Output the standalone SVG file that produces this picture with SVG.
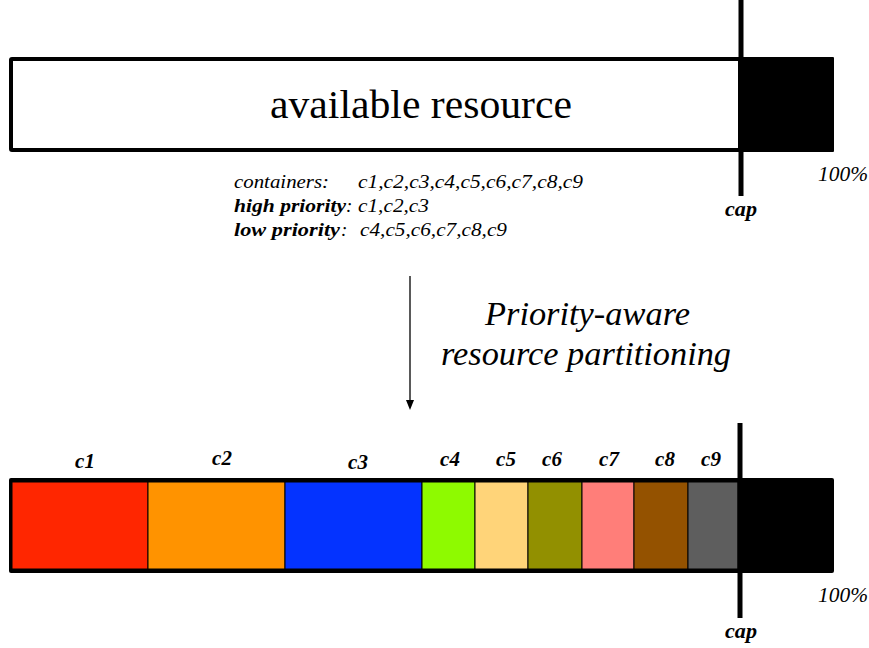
<svg xmlns="http://www.w3.org/2000/svg" width="869" height="648" viewBox="0 0 869 648">
<style>
.t{font-family:"Liberation Serif",serif;fill:#000}
.i{font-style:italic}
.b{font-weight:bold}
.lg{font-size:19px}
.cl{font-size:21px;font-style:italic;font-weight:bold}
.seg{stroke:#000;stroke-width:1}
.cap{stroke:#000;stroke-width:5;fill:none}
</style>
<rect width="869" height="648" fill="#fff"/>
<g id="available">
<rect x="11" y="59" width="729" height="91" fill="#fff" stroke="#000" stroke-width="4" rx="1"/>
<rect x="740" y="57" width="94" height="95" fill="#000" rx="1"/>
<text class="t" x="270" y="118" font-size="39" textLength="302" lengthAdjust="spacingAndGlyphs">available resource</text>
<text class="t i" x="818" y="181" font-size="21" textLength="50" lengthAdjust="spacingAndGlyphs">100%</text>
</g>
<g id="cap-top">
<line class="cap" x1="741" y1="0" x2="741" y2="196"/>
<text class="t i b" x="725" y="216" font-size="20" textLength="32" lengthAdjust="spacingAndGlyphs">cap</text>
</g>
<g id="legend">
<text class="t i lg" x="234" y="188" textLength="95" lengthAdjust="spacingAndGlyphs">containers:</text>
<text class="t i lg" x="358" y="188" textLength="225" lengthAdjust="spacingAndGlyphs">c1,c2,c3,c4,c5,c6,c7,c8,c9</text>
<text class="t i b lg" x="234" y="212" textLength="112" lengthAdjust="spacingAndGlyphs">high priority</text>
<text class="t i lg" x="346" y="212">:</text>
<text class="t i lg" x="358" y="212" textLength="71" lengthAdjust="spacingAndGlyphs">c1,c2,c3</text>
<text class="t i b lg" x="234" y="236" textLength="106" lengthAdjust="spacingAndGlyphs">low priority</text>
<text class="t i lg" x="341" y="236">:</text>
<text class="t i lg" x="360" y="236" textLength="147" lengthAdjust="spacingAndGlyphs">c4,c5,c6,c7,c8,c9</text>
</g>
<g id="connectors">
<line x1="410" y1="276" x2="410" y2="402" stroke="#000" stroke-width="1.3"/>
<path d="M406,400 L414,400 L410,410 Z" fill="#000"/>
</g>
<g id="step-label">
<text class="t i" x="485" y="325" font-size="33" textLength="205" lengthAdjust="spacingAndGlyphs">Priority-aware</text>
<text class="t i" x="441" y="365" font-size="33" textLength="290" lengthAdjust="spacingAndGlyphs">resource partitioning</text>
</g>
<g id="partitioned">
<rect x="9" y="478" width="825" height="95" fill="#000" rx="2"/>
<rect class="seg" x="12" y="482" width="136" height="87" fill="#ff2600"/>
<rect class="seg" x="148" y="482" width="137" height="87" fill="#ff9300"/>
<rect class="seg" x="285" y="482" width="137" height="87" fill="#0433ff"/>
<rect class="seg" x="422" y="482" width="53" height="87" fill="#8efa00"/>
<rect class="seg" x="475" y="482" width="53" height="87" fill="#ffd479"/>
<rect class="seg" x="528" y="482" width="54" height="87" fill="#929000"/>
<rect class="seg" x="582" y="482" width="52" height="87" fill="#ff7e79"/>
<rect class="seg" x="634" y="482" width="54" height="87" fill="#945200"/>
<rect class="seg" x="688" y="482" width="50" height="87" fill="#5e5e5e"/>
<text class="t cl" x="85" y="468" text-anchor="middle">c1</text>
<text class="t cl" x="222" y="465" text-anchor="middle">c2</text>
<text class="t cl" x="358" y="469" text-anchor="middle">c3</text>
<text class="t cl" x="450" y="466" text-anchor="middle">c4</text>
<text class="t cl" x="506" y="466" text-anchor="middle">c5</text>
<text class="t cl" x="552" y="466" text-anchor="middle">c6</text>
<text class="t cl" x="609" y="466" text-anchor="middle">c7</text>
<text class="t cl" x="665" y="466" text-anchor="middle">c8</text>
<text class="t cl" x="711" y="466" text-anchor="middle">c9</text>
<text class="t i" x="818" y="602" font-size="21" textLength="50" lengthAdjust="spacingAndGlyphs">100%</text>
</g>
<g id="cap-bottom">
<line class="cap" x1="740" y1="423" x2="740" y2="618"/>
<text class="t i b" x="725" y="638" font-size="20" textLength="32" lengthAdjust="spacingAndGlyphs">cap</text>
</g>
</svg>
